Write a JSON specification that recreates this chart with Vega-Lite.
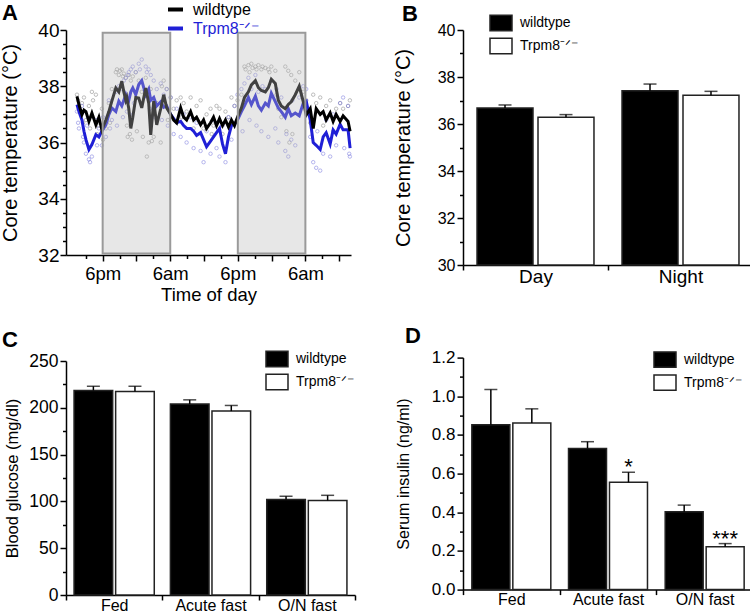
{
"$schema": "https://vega.github.io/schema/vega-lite/v6.json",
"padding": {"left": 0, "top": 0, "right": 0, "bottom": 0},
"config": {
  "font": "Liberation Sans",
  "view": {"stroke": null},
  "axis": {"domainColor": "#000", "domainWidth": 1.5, "tickColor": "#000", "tickWidth": 1.5, "ticks": true, "labelColor": "#000", "titleColor": "#000", "grid": false, "labelFont": "Liberation Sans", "titleFont": "Liberation Sans", "titleFontWeight": "normal"},
  "title": {"fontSize": 22, "fontWeight": "bold", "anchor": "start", "frame": "group", "font": "Liberation Sans", "color": "#000"},
  "legend": {"labelFont": "Liberation Sans", "labelColor": "#000"}
},
"datasets": {
  "lineA": [
    {"h":1.44,"g":"wildtype","v":37.64},{"h":1.79,"g":"wildtype","v":37.35},{"h":2.32,"g":"wildtype","v":36.99},{"h":2.68,"g":"wildtype","v":37.15},{"h":3.03,"g":"wildtype","v":37.1},{"h":3.56,"g":"wildtype","v":36.75},{"h":4.09,"g":"wildtype","v":37.05},{"h":4.8,"g":"wildtype","v":36.63},{"h":5.33,"g":"wildtype","v":36.9},{"h":5.86,"g":"wildtype","v":36.45},
    {"h":6.57,"g":"wildtype","v":36.8},{"h":7.1,"g":"wildtype","v":37.1},{"h":7.63,"g":"wildtype","v":37.47},{"h":8.34,"g":"wildtype","v":37.94},{"h":8.87,"g":"wildtype","v":37.8},{"h":9.4,"g":"wildtype","v":38.18},{"h":9.76,"g":"wildtype","v":37.8},{"h":10.11,"g":"wildtype","v":37.5},{"h":10.29,"g":"wildtype","v":37.6},{"h":10.64,"g":"wildtype","v":37.2},
    {"h":11.0,"g":"wildtype","v":36.5},{"h":11.35,"g":"wildtype","v":36.9},{"h":11.88,"g":"wildtype","v":37.6},{"h":12.41,"g":"wildtype","v":37.58},{"h":12.94,"g":"wildtype","v":37.23},{"h":13.65,"g":"wildtype","v":37.94},{"h":14.18,"g":"wildtype","v":37.4},{"h":14.54,"g":"wildtype","v":36.27},{"h":15.07,"g":"wildtype","v":37.47},{"h":15.6,"g":"wildtype","v":36.63},
    {"h":16.31,"g":"wildtype","v":37.2},{"h":16.84,"g":"wildtype","v":37.7},{"h":17.37,"g":"wildtype","v":37.23},{"h":18.08,"g":"wildtype","v":37.0},{"h":18.61,"g":"wildtype","v":36.8},{"h":19.14,"g":"wildtype","v":36.7},{"h":19.85,"g":"wildtype","v":37.23},{"h":20.38,"g":"wildtype","v":36.9},{"h":20.91,"g":"wildtype","v":36.8},{"h":21.62,"g":"wildtype","v":37.1},
    {"h":22.15,"g":"wildtype","v":36.8},{"h":22.68,"g":"wildtype","v":36.9},{"h":23.39,"g":"wildtype","v":36.63},{"h":23.92,"g":"wildtype","v":36.8},{"h":24.45,"g":"wildtype","v":36.5},{"h":25.16,"g":"wildtype","v":36.7},{"h":25.69,"g":"wildtype","v":36.9},{"h":26.22,"g":"wildtype","v":36.6},{"h":26.75,"g":"wildtype","v":36.85},{"h":27.28,"g":"wildtype","v":36.6},
    {"h":27.81,"g":"wildtype","v":36.8},{"h":28.34,"g":"wildtype","v":36.55},{"h":28.87,"g":"wildtype","v":36.8},{"h":29.41,"g":"wildtype","v":36.6},{"h":29.94,"g":"wildtype","v":36.9},{"h":30.64,"g":"wildtype","v":37.23},{"h":31.18,"g":"wildtype","v":37.6},{"h":31.88,"g":"wildtype","v":37.8},{"h":32.41,"g":"wildtype","v":38.05},{"h":33.12,"g":"wildtype","v":38.2},
    {"h":33.65,"g":"wildtype","v":37.95},{"h":34.18,"g":"wildtype","v":37.85},{"h":34.89,"g":"wildtype","v":37.8},{"h":35.42,"g":"wildtype","v":37.95},{"h":35.95,"g":"wildtype","v":38.25},{"h":36.66,"g":"wildtype","v":38.1},{"h":37.19,"g":"wildtype","v":37.5},{"h":37.72,"g":"wildtype","v":37.3},{"h":38.43,"g":"wildtype","v":37.2},{"h":38.96,"g":"wildtype","v":37.35},
    {"h":39.49,"g":"wildtype","v":37.45},{"h":40.2,"g":"wildtype","v":37.7},{"h":40.91,"g":"wildtype","v":38.0},{"h":41.62,"g":"wildtype","v":37.45},{"h":42.15,"g":"wildtype","v":36.98},{"h":42.86,"g":"wildtype","v":37.2},{"h":43.39,"g":"wildtype","v":36.5},{"h":43.92,"g":"wildtype","v":37.2},{"h":44.63,"g":"wildtype","v":37.0},{"h":45.16,"g":"wildtype","v":37.1},
    {"h":45.69,"g":"wildtype","v":36.8},{"h":46.4,"g":"wildtype","v":37.05},{"h":46.93,"g":"wildtype","v":36.75},{"h":47.46,"g":"wildtype","v":37.0},{"h":48.17,"g":"wildtype","v":36.75},{"h":48.7,"g":"wildtype","v":36.95},{"h":49.58,"g":"wildtype","v":36.75},{"h":49.94,"g":"wildtype","v":36.4},
    {"h":1.44,"g":"Trpm8","v":37.35},{"h":1.79,"g":"Trpm8","v":37.1},{"h":2.32,"g":"Trpm8","v":36.8},{"h":2.68,"g":"Trpm8","v":36.4},{"h":3.03,"g":"Trpm8","v":36.1},{"h":3.56,"g":"Trpm8","v":35.75},{"h":4.09,"g":"Trpm8","v":35.93},{"h":4.8,"g":"Trpm8","v":36.28},{"h":5.33,"g":"Trpm8","v":36.2},{"h":5.86,"g":"Trpm8","v":36.4},
    {"h":6.57,"g":"Trpm8","v":36.63},{"h":7.1,"g":"Trpm8","v":36.99},{"h":7.63,"g":"Trpm8","v":37.23},{"h":8.34,"g":"Trpm8","v":37.1},{"h":8.87,"g":"Trpm8","v":37.47},{"h":9.4,"g":"Trpm8","v":37.3},{"h":9.76,"g":"Trpm8","v":37.5},{"h":10.11,"g":"Trpm8","v":37.7},{"h":10.29,"g":"Trpm8","v":37.6},{"h":10.64,"g":"Trpm8","v":37.5},
    {"h":11.0,"g":"Trpm8","v":37.8},{"h":11.35,"g":"Trpm8","v":37.94},{"h":11.88,"g":"Trpm8","v":37.7},{"h":12.41,"g":"Trpm8","v":38.06},{"h":12.94,"g":"Trpm8","v":38.2},{"h":13.65,"g":"Trpm8","v":37.7},{"h":14.18,"g":"Trpm8","v":37.9},{"h":14.54,"g":"Trpm8","v":37.5},{"h":15.07,"g":"Trpm8","v":37.6},{"h":15.6,"g":"Trpm8","v":37.3},
    {"h":16.31,"g":"Trpm8","v":37.45},{"h":16.84,"g":"Trpm8","v":37.25},{"h":17.37,"g":"Trpm8","v":37.3},{"h":18.08,"g":"Trpm8","v":37.0},{"h":18.61,"g":"Trpm8","v":36.85},{"h":19.14,"g":"Trpm8","v":36.7},{"h":19.85,"g":"Trpm8","v":36.75},{"h":20.38,"g":"Trpm8","v":36.6},{"h":20.91,"g":"Trpm8","v":36.5},{"h":21.62,"g":"Trpm8","v":36.5},
    {"h":22.15,"g":"Trpm8","v":36.4},{"h":22.68,"g":"Trpm8","v":36.25},{"h":23.39,"g":"Trpm8","v":36.35},{"h":23.92,"g":"Trpm8","v":36.1},{"h":24.45,"g":"Trpm8","v":35.85},{"h":25.16,"g":"Trpm8","v":36.05},{"h":25.69,"g":"Trpm8","v":36.2},{"h":26.22,"g":"Trpm8","v":36.35},{"h":26.75,"g":"Trpm8","v":36.5},{"h":27.28,"g":"Trpm8","v":35.95},
    {"h":27.81,"g":"Trpm8","v":35.6},{"h":28.34,"g":"Trpm8","v":36.2},{"h":28.87,"g":"Trpm8","v":36.6},{"h":29.41,"g":"Trpm8","v":36.65},{"h":29.94,"g":"Trpm8","v":36.8},{"h":30.64,"g":"Trpm8","v":37.1},{"h":31.18,"g":"Trpm8","v":37.3},{"h":31.88,"g":"Trpm8","v":37.6},{"h":32.41,"g":"Trpm8","v":37.35},{"h":33.12,"g":"Trpm8","v":37.65},
    {"h":33.65,"g":"Trpm8","v":37.3},{"h":34.18,"g":"Trpm8","v":37.15},{"h":34.89,"g":"Trpm8","v":37.4},{"h":35.42,"g":"Trpm8","v":37.3},{"h":35.95,"g":"Trpm8","v":37.75},{"h":36.66,"g":"Trpm8","v":37.45},{"h":37.19,"g":"Trpm8","v":37.23},{"h":37.72,"g":"Trpm8","v":37.1},{"h":38.43,"g":"Trpm8","v":36.9},{"h":38.96,"g":"Trpm8","v":37.2},
    {"h":39.49,"g":"Trpm8","v":36.95},{"h":40.2,"g":"Trpm8","v":37.05},{"h":40.91,"g":"Trpm8","v":36.95},{"h":41.62,"g":"Trpm8","v":37.4},{"h":42.15,"g":"Trpm8","v":37.47},{"h":42.86,"g":"Trpm8","v":36.8},{"h":43.39,"g":"Trpm8","v":36.0},{"h":43.92,"g":"Trpm8","v":35.9},{"h":44.63,"g":"Trpm8","v":35.75},{"h":45.16,"g":"Trpm8","v":36.2},
    {"h":45.69,"g":"Trpm8","v":36.35},{"h":46.4,"g":"Trpm8","v":35.95},{"h":46.93,"g":"Trpm8","v":36.45},{"h":47.46,"g":"Trpm8","v":36.3},{"h":48.17,"g":"Trpm8","v":36.65},{"h":48.7,"g":"Trpm8","v":36.45},{"h":49.58,"g":"Trpm8","v":36.45},{"h":49.94,"g":"Trpm8","v":35.8}
  ],
  "ptsA": [
    {"h":1.44,"g":"wildtype","v":37.7},{"h":1.64,"g":"wildtype","v":37.5},{"h":1.79,"g":"wildtype","v":37.2},{"h":2.32,"g":"wildtype","v":37.4},{"h":2.52,"g":"wildtype","v":36.7},{"h":2.68,"g":"wildtype","v":37.6},{"h":3.03,"g":"wildtype","v":36.8},{"h":3.56,"g":"wildtype","v":37.3},{"h":3.76,"g":"wildtype","v":36.5},{"h":4.09,"g":"wildtype","v":37.8},
    {"h":4.29,"g":"wildtype","v":37.5},{"h":4.8,"g":"wildtype","v":37.7},{"h":5.0,"g":"wildtype","v":36.3},{"h":5.33,"g":"wildtype","v":36.6},{"h":5.86,"g":"wildtype","v":37.2},{"h":6.06,"g":"wildtype","v":36.1},{"h":6.57,"g":"wildtype","v":36.5},{"h":7.1,"g":"wildtype","v":37.4},{"h":7.3,"g":"wildtype","v":36.7},{"h":7.63,"g":"wildtype","v":37.9},
    {"h":8.34,"g":"wildtype","v":38.5},{"h":8.54,"g":"wildtype","v":38.6},{"h":8.87,"g":"wildtype","v":38.4},{"h":9.07,"g":"wildtype","v":38.55},{"h":9.4,"g":"wildtype","v":38.6},{"h":9.6,"g":"wildtype","v":38.35},{"h":9.76,"g":"wildtype","v":38.45},{"h":10.11,"g":"wildtype","v":38.3},{"h":10.31,"g":"wildtype","v":36.6},{"h":10.45,"g":"wildtype","v":36.2},
    {"h":10.64,"g":"wildtype","v":38.4},{"h":10.84,"g":"wildtype","v":36.3},{"h":11.0,"g":"wildtype","v":38.2},{"h":11.2,"g":"wildtype","v":36.1},{"h":11.35,"g":"wildtype","v":38.35},{"h":11.88,"g":"wildtype","v":38.5},{"h":12.08,"g":"wildtype","v":36.4},{"h":12.41,"g":"wildtype","v":38.2},{"h":12.94,"g":"wildtype","v":37.8},{"h":13.14,"g":"wildtype","v":36.2},
    {"h":13.65,"g":"wildtype","v":38.3},{"h":13.85,"g":"wildtype","v":35.5},{"h":14.18,"g":"wildtype","v":36.0},{"h":14.54,"g":"wildtype","v":37.9},{"h":14.74,"g":"wildtype","v":36.05},{"h":15.07,"g":"wildtype","v":36.2},{"h":15.6,"g":"wildtype","v":37.4},{"h":16.31,"g":"wildtype","v":36.0},{"h":16.51,"g":"wildtype","v":38.0},{"h":16.84,"g":"wildtype","v":38.2},
    {"h":17.37,"g":"wildtype","v":37.9},{"h":17.57,"g":"wildtype","v":36.8},{"h":18.08,"g":"wildtype","v":37.6},{"h":18.61,"g":"wildtype","v":37.2},{"h":19.14,"g":"wildtype","v":37.5},{"h":19.85,"g":"wildtype","v":37.6},{"h":20.05,"g":"wildtype","v":36.9},{"h":20.38,"g":"wildtype","v":37.4},{"h":20.91,"g":"wildtype","v":37.1},{"h":21.62,"g":"wildtype","v":37.6},
    {"h":22.15,"g":"wildtype","v":36.5},{"h":22.68,"g":"wildtype","v":37.3},{"h":23.39,"g":"wildtype","v":37.5},{"h":23.92,"g":"wildtype","v":36.5},{"h":24.45,"g":"wildtype","v":37.0},{"h":25.16,"g":"wildtype","v":37.2},{"h":25.36,"g":"wildtype","v":36.3},{"h":25.69,"g":"wildtype","v":36.6},{"h":26.22,"g":"wildtype","v":37.3},{"h":26.75,"g":"wildtype","v":37.2},
    {"h":27.28,"g":"wildtype","v":36.3},{"h":27.81,"g":"wildtype","v":37.1},{"h":28.34,"g":"wildtype","v":36.9},{"h":28.87,"g":"wildtype","v":37.6},{"h":29.41,"g":"wildtype","v":37.3},{"h":29.94,"g":"wildtype","v":37.5},{"h":30.64,"g":"wildtype","v":37.7},{"h":31.18,"g":"wildtype","v":38.7},{"h":31.38,"g":"wildtype","v":38.6},{"h":31.88,"g":"wildtype","v":38.75},
    {"h":32.08,"g":"wildtype","v":38.5},{"h":32.41,"g":"wildtype","v":38.8},{"h":32.61,"g":"wildtype","v":38.65},{"h":33.12,"g":"wildtype","v":38.7},{"h":33.32,"g":"wildtype","v":38.6},{"h":33.65,"g":"wildtype","v":38.75},{"h":34.18,"g":"wildtype","v":38.6},{"h":34.38,"g":"wildtype","v":38.7},{"h":34.89,"g":"wildtype","v":38.65},{"h":35.42,"g":"wildtype","v":38.6},
    {"h":35.62,"g":"wildtype","v":38.5},{"h":35.95,"g":"wildtype","v":38.7},{"h":36.66,"g":"wildtype","v":38.55},{"h":36.86,"g":"wildtype","v":37.7},{"h":37.19,"g":"wildtype","v":37.2},{"h":37.72,"g":"wildtype","v":36.9},{"h":38.43,"g":"wildtype","v":38.7},{"h":38.63,"g":"wildtype","v":36.4},{"h":38.96,"g":"wildtype","v":38.55},{"h":39.16,"g":"wildtype","v":36.0},
    {"h":39.49,"g":"wildtype","v":38.4},{"h":39.69,"g":"wildtype","v":36.3},{"h":40.2,"g":"wildtype","v":38.2},{"h":40.91,"g":"wildtype","v":38.5},{"h":41.62,"g":"wildtype","v":37.8},{"h":42.15,"g":"wildtype","v":37.5},{"h":42.86,"g":"wildtype","v":36.7},{"h":43.39,"g":"wildtype","v":37.7},{"h":43.92,"g":"wildtype","v":37.4},{"h":44.63,"g":"wildtype","v":37.6},
    {"h":45.16,"g":"wildtype","v":36.6},{"h":45.69,"g":"wildtype","v":37.3},{"h":46.4,"g":"wildtype","v":37.5},{"h":46.93,"g":"wildtype","v":36.4},{"h":47.46,"g":"wildtype","v":37.2},{"h":48.17,"g":"wildtype","v":37.4},{"h":48.7,"g":"wildtype","v":37.2},{"h":49.58,"g":"wildtype","v":37.3},{"h":49.9,"g":"wildtype","v":37.5},
    {"h":1.44,"g":"Trpm8","v":37.1},{"h":1.64,"g":"Trpm8","v":36.7},{"h":1.79,"g":"Trpm8","v":36.5},{"h":2.32,"g":"Trpm8","v":37.3},{"h":2.52,"g":"Trpm8","v":36.2},{"h":2.68,"g":"Trpm8","v":36.0},{"h":3.03,"g":"Trpm8","v":35.6},{"h":3.23,"g":"Trpm8","v":36.6},{"h":3.56,"g":"Trpm8","v":35.4},{"h":3.76,"g":"Trpm8","v":35.3},
    {"h":4.09,"g":"Trpm8","v":35.5},{"h":4.8,"g":"Trpm8","v":36.8},{"h":5.0,"g":"Trpm8","v":35.9},{"h":5.33,"g":"Trpm8","v":36.5},{"h":5.86,"g":"Trpm8","v":35.9},{"h":6.06,"g":"Trpm8","v":36.9},{"h":6.57,"g":"Trpm8","v":36.2},{"h":7.1,"g":"Trpm8","v":37.5},{"h":7.3,"g":"Trpm8","v":36.5},{"h":7.63,"g":"Trpm8","v":36.8},
    {"h":8.34,"g":"Trpm8","v":37.8},{"h":8.54,"g":"Trpm8","v":36.6},{"h":8.87,"g":"Trpm8","v":38.0},{"h":9.4,"g":"Trpm8","v":37.9},{"h":9.6,"g":"Trpm8","v":36.9},{"h":9.76,"g":"Trpm8","v":38.2},{"h":10.11,"g":"Trpm8","v":38.3},{"h":10.31,"g":"Trpm8","v":37.1},{"h":10.45,"g":"Trpm8","v":38.4},{"h":10.64,"g":"Trpm8","v":38.5},
    {"h":10.84,"g":"Trpm8","v":37.0},{"h":11.0,"g":"Trpm8","v":38.6},{"h":11.35,"g":"Trpm8","v":38.7},{"h":11.55,"g":"Trpm8","v":37.4},{"h":11.88,"g":"Trpm8","v":38.5},{"h":12.41,"g":"Trpm8","v":38.8},{"h":12.61,"g":"Trpm8","v":38.6},{"h":12.94,"g":"Trpm8","v":38.95},{"h":13.65,"g":"Trpm8","v":38.7},{"h":13.85,"g":"Trpm8","v":38.5},
    {"h":14.18,"g":"Trpm8","v":38.6},{"h":14.38,"g":"Trpm8","v":37.2},{"h":14.54,"g":"Trpm8","v":38.4},{"h":15.07,"g":"Trpm8","v":38.2},{"h":15.27,"g":"Trpm8","v":36.9},{"h":15.6,"g":"Trpm8","v":37.9},{"h":16.31,"g":"Trpm8","v":38.1},{"h":16.51,"g":"Trpm8","v":36.8},{"h":16.84,"g":"Trpm8","v":37.7},{"h":17.37,"g":"Trpm8","v":37.9},
    {"h":17.57,"g":"Trpm8","v":36.6},{"h":18.08,"g":"Trpm8","v":37.6},{"h":18.61,"g":"Trpm8","v":36.3},{"h":19.14,"g":"Trpm8","v":37.2},{"h":19.85,"g":"Trpm8","v":36.2},{"h":20.38,"g":"Trpm8","v":37.0},{"h":20.91,"g":"Trpm8","v":36.0},{"h":21.62,"g":"Trpm8","v":36.9},{"h":22.15,"g":"Trpm8","v":35.8},{"h":22.68,"g":"Trpm8","v":36.7},
    {"h":23.39,"g":"Trpm8","v":35.7},{"h":23.92,"g":"Trpm8","v":35.3},{"h":24.45,"g":"Trpm8","v":36.4},{"h":25.16,"g":"Trpm8","v":35.6},{"h":25.69,"g":"Trpm8","v":36.8},{"h":26.22,"g":"Trpm8","v":35.8},{"h":26.75,"g":"Trpm8","v":35.5},{"h":27.28,"g":"Trpm8","v":36.6},{"h":27.81,"g":"Trpm8","v":35.3},{"h":28.34,"g":"Trpm8","v":36.9},
    {"h":28.87,"g":"Trpm8","v":36.1},{"h":29.41,"g":"Trpm8","v":37.3},{"h":29.94,"g":"Trpm8","v":37.7},{"h":30.64,"g":"Trpm8","v":37.9},{"h":30.84,"g":"Trpm8","v":36.4},{"h":31.18,"g":"Trpm8","v":38.1},{"h":31.88,"g":"Trpm8","v":38.3},{"h":32.08,"g":"Trpm8","v":36.8},{"h":32.41,"g":"Trpm8","v":37.9},{"h":33.12,"g":"Trpm8","v":38.4},
    {"h":33.32,"g":"Trpm8","v":36.6},{"h":33.65,"g":"Trpm8","v":37.8},{"h":34.18,"g":"Trpm8","v":36.4},{"h":34.38,"g":"Trpm8","v":38.0},{"h":34.89,"g":"Trpm8","v":37.9},{"h":35.42,"g":"Trpm8","v":36.2},{"h":35.95,"g":"Trpm8","v":38.2},{"h":36.66,"g":"Trpm8","v":36.5},{"h":36.86,"g":"Trpm8","v":37.9},{"h":37.19,"g":"Trpm8","v":36.0},
    {"h":37.72,"g":"Trpm8","v":37.6},{"h":38.43,"g":"Trpm8","v":35.7},{"h":38.63,"g":"Trpm8","v":36.3},{"h":38.96,"g":"Trpm8","v":35.5},{"h":39.49,"g":"Trpm8","v":36.1},{"h":39.69,"g":"Trpm8","v":37.5},{"h":40.2,"g":"Trpm8","v":35.9},{"h":40.91,"g":"Trpm8","v":37.6},{"h":41.62,"g":"Trpm8","v":38.0},{"h":42.15,"g":"Trpm8","v":37.9},
    {"h":42.86,"g":"Trpm8","v":36.2},{"h":43.39,"g":"Trpm8","v":35.3},{"h":43.92,"g":"Trpm8","v":35.1},{"h":44.12,"g":"Trpm8","v":36.4},{"h":44.63,"g":"Trpm8","v":35.0},{"h":45.16,"g":"Trpm8","v":35.6},{"h":45.69,"g":"Trpm8","v":36.8},{"h":46.4,"g":"Trpm8","v":35.5},{"h":46.93,"g":"Trpm8","v":37.0},{"h":47.46,"g":"Trpm8","v":35.9},
    {"h":48.17,"g":"Trpm8","v":37.4},{"h":48.7,"g":"Trpm8","v":37.6},{"h":48.9,"g":"Trpm8","v":35.8},{"h":49.58,"g":"Trpm8","v":37.3},{"h":49.78,"g":"Trpm8","v":35.6},{"h":49.9,"g":"Trpm8","v":35.5}
  ],
  "night": [{"s":6,"e":18,"lo":32.05,"hi":39.9},{"s":30,"e":42,"lo":32.05,"hi":39.9}],
  "B": [
    {"c":"Day","g":"wildtype","m":36.68,"hi":36.81},{"c":"Day","g":"Trpm8","m":36.29,"hi":36.4},
    {"c":"Night","g":"wildtype","m":37.42,"hi":37.7},{"c":"Night","g":"Trpm8","m":37.22,"hi":37.39}
  ],
  "C": [
    {"c":"Fed","g":"wildtype","m":218.5,"hi":223},{"c":"Fed","g":"Trpm8","m":217.5,"hi":223},
    {"c":"Acute fast","g":"wildtype","m":204,"hi":208.5},{"c":"Acute fast","g":"Trpm8","m":196.5,"hi":202.5},
    {"c":"O/N fast","g":"wildtype","m":102,"hi":105.5},{"c":"O/N fast","g":"Trpm8","m":101,"hi":106.5}
  ],
  "D": [
    {"c":"Fed","g":"wildtype","m":0.853,"hi":1.035,"s":""},{"c":"Fed","g":"Trpm8","m":0.862,"hi":0.935,"s":""},
    {"c":"Acute fast","g":"wildtype","m":0.73,"hi":0.765,"s":""},{"c":"Acute fast","g":"Trpm8","m":0.555,"hi":0.607,"s":"*"},
    {"c":"O/N fast","g":"wildtype","m":0.403,"hi":0.437,"s":""},{"c":"O/N fast","g":"Trpm8","m":0.222,"hi":0.238,"s":"***"}
  ]
},
"spacing": 36,
"resolve": {"scale": {"color": "independent", "xOffset": "independent"}, "legend": {"color": "independent"}},
"hconcat": [
  {
    "spacing": 24,
    "resolve": {"scale": {"color": "independent", "xOffset": "independent"}, "legend": {"color": "independent"}},
    "vconcat": [
      {
        "title": {"text": "A", "dx": -64, "offset": -24.6},
        "width": 285, "height": 225,
        "resolve": {"axis": {"x": "independent", "y": "independent"}},
        "layer": [
          {
            "data": {"name": "ptsA"},
            "transform": [{"filter": "datum.g === 'wildtype'"}],
            "mark": {"type": "point", "shape": "circle", "size": 12, "strokeWidth": 0.8, "filled": false, "stroke": "#8a8a8a"},
            "encoding": {
              "x": {"field": "h", "type": "quantitative", "scale": {"domain": [-0.51, 50.1], "nice": false, "zero": false},
                "axis": {"title": "Time of day", "orient": "bottom", "values": [6,12,18,24,30,36,42,48],
                  "labelExpr": "datum.value === 6 || datum.value === 30 ? '6pm' : (datum.value === 18 || datum.value === 42 ? '6am' : '')",
                  "tickSize": 6, "labelFontSize": 18.5, "titleFontSize": 18.5, "labelPadding": 3, "titlePadding": 3, "labelFlush": false}},
              "y": {"field": "v", "type": "quantitative", "scale": {"domain": [32, 40], "nice": false, "zero": false},
                "axis": {"title": "Core temperature (°C)", "orient": "left", "values": [32,34,36,38,40],
                  "tickSize": 6, "labelFontSize": 19, "titleFontSize": 20, "labelPadding": 1, "titlePadding": 17, "labelFlush": false}}
            }
          },
          {
            "data": {"name": "ptsA"},
            "transform": [{"filter": "datum.g === 'Trpm8'"}],
            "mark": {"type": "point", "shape": "circle", "size": 12, "strokeWidth": 0.8, "filled": false, "stroke": "#7c7ce0"},
            "encoding": {
              "x": {"field": "h", "type": "quantitative", "scale": {"domain": [-0.51, 50.1], "nice": false, "zero": false},
                "axis": {"orient": "bottom", "values": [3,9,15,21,27,33,39,45], "labels": false, "domain": false, "title": null, "tickSize": 3.5}},
              "y": {"field": "v", "type": "quantitative", "scale": {"domain": [32, 40], "nice": false, "zero": false},
                "axis": {"orient": "left", "values": [32.5,33,33.5,34.5,35,35.5,36.5,37,37.5,38.5,39,39.5], "labels": false, "domain": false, "title": null, "tickSize": 3.5}}
            }
          },
          {
            "data": {"name": "lineA"},
            "transform": [{"filter": "datum.g === 'Trpm8'"}],
            "mark": {"type": "line", "strokeWidth": 3},
            "encoding": {
              "x": {"field": "h", "type": "quantitative", "scale": {"domain": [-0.51, 50.1], "nice": false, "zero": false}, "axis": null},
              "y": {"field": "v", "type": "quantitative", "scale": {"domain": [32, 40], "nice": false, "zero": false}, "axis": null},
              "color": {"field": "g", "type": "nominal", "scale": {"domain": ["wildtype", "Trpm8"], "range": ["#000000", "#1f1fd6"]},
                "legend": {"orient": "none", "legendX": 100, "legendY": -30, "title": null, "symbolType": "stroke", "symbolSize": 225, "symbolStrokeWidth": 4,
                  "labelFontSize": 16, "labelOffset": 8, "rowPadding": 1, "padding": 0,
                  "labelExpr": "datum.label === 'Trpm8' ? 'Trpm8⁻ᐟ⁻' : datum.label",
                  "encode": {"labels": {"update": {"fill": {"signal": "datum.value === 'Trpm8' ? '#1f1fd6' : '#000000'"}}}}}}
            }
          },
          {
            "data": {"name": "lineA"},
            "transform": [{"filter": "datum.g === 'wildtype'"}],
            "mark": {"type": "line", "strokeWidth": 3},
            "encoding": {
              "x": {"field": "h", "type": "quantitative", "scale": {"domain": [-0.51, 50.1], "nice": false, "zero": false}, "axis": null},
              "y": {"field": "v", "type": "quantitative", "scale": {"domain": [32, 40], "nice": false, "zero": false}, "axis": null},
              "color": {"field": "g", "type": "nominal", "scale": {"domain": ["wildtype", "Trpm8"], "range": ["#000000", "#1f1fd6"]}}
            }
          },
          {
            "data": {"name": "night"},
            "mark": {"type": "rect", "fill": "#bbbbbb", "fillOpacity": 0.35, "stroke": "#9a9a9a", "strokeOpacity": 1, "strokeWidth": 2},
            "encoding": {
              "x": {"field": "s", "type": "quantitative", "scale": {"domain": [-0.51, 50.1], "nice": false, "zero": false}, "axis": null},
              "x2": {"field": "e"},
              "y": {"field": "lo", "type": "quantitative", "scale": {"domain": [32, 40], "nice": false, "zero": false}, "axis": null},
              "y2": {"field": "hi"}
            }
          }
        ]
      },
      {
        "title": {"text": "C", "dx": -64, "offset": -4.6},
        "width": 289, "height": 234,
        "data": {"name": "C"},
        "resolve": {"axis": {"y": "independent"}},
        "layer": [
          {
            "mark": {"type": "bar", "stroke": "#222", "strokeWidth": 1.5},
            "encoding": {
              "x": {"field": "c", "type": "nominal", "sort": ["Fed", "Acute fast", "O/N fast"], "scale": {"paddingInner": 0, "paddingOuter": 0},
                "axis": {"title": null, "labelFontSize": 16, "labelAngle": 0, "tickBand": "extent", "ticks": true, "tickSize": 5, "labelPadding": -3}},
              "xOffset": {"field": "g", "sort": ["wildtype", "Trpm8"], "scale": {"paddingInner": 0.071, "paddingOuter": 0.194}},
              "y": {"field": "m", "type": "quantitative", "scale": {"domain": [0, 250], "nice": false},
                "axis": {"title": "Blood glucose (mg/dl)", "orient": "left", "values": [0,50,100,150,200,250],
                  "tickSize": 6, "labelFontSize": 17.5, "titleFontSize": 16.5, "labelPadding": 2, "titlePadding": 8, "labelFlush": false}},
              "color": {"field": "g", "type": "nominal", "scale": {"domain": ["wildtype", "Trpm8"], "range": ["#000000", "#ffffff"]},
                "legend": {"orient": "none", "legendX": 199, "legendY": -14, "title": null, "symbolType": "M-1,-0.7L1,-0.7L1,0.7L-1,0.7Z", "symbolSize": 484,
                  "symbolStrokeColor": "#222", "symbolStrokeWidth": 1.5, "labelFontSize": 14, "labelOffset": 7, "rowPadding": 0, "padding": 0,
                  "labelExpr": "datum.label === 'Trpm8' ? 'Trpm8⁻ᐟ⁻' : datum.label"}}
            }
          },
          {
            "mark": {"type": "rule", "strokeWidth": 1.5, "color": "#000"},
            "encoding": {
              "x": {"field": "c", "type": "nominal", "sort": ["Fed", "Acute fast", "O/N fast"]},
              "xOffset": {"field": "g", "sort": ["wildtype", "Trpm8"]},
              "y": {"field": "m", "type": "quantitative", "scale": {"domain": [0, 250], "nice": false},
                "axis": {"orient": "left", "values": [25,75,125,175,225], "labels": false, "domain": false, "title": null, "tickSize": 3.5}},
              "y2": {"field": "hi"}
            }
          },
          {
            "mark": {"type": "tick", "orient": "horizontal", "size": 13, "thickness": 1.5, "color": "#000"},
            "encoding": {
              "x": {"field": "c", "type": "nominal", "sort": ["Fed", "Acute fast", "O/N fast"]},
              "xOffset": {"field": "g", "sort": ["wildtype", "Trpm8"]},
              "y": {"field": "hi", "type": "quantitative", "scale": {"domain": [0, 250], "nice": false}, "axis": null}
            }
          }
        ]
      }
    ]
  },
  {
    "spacing": 38.6,
    "resolve": {"scale": {"color": "independent", "xOffset": "independent"}, "legend": {"color": "independent"}},
    "vconcat": [
      {
        "title": {"text": "B", "dx": -61, "offset": -15},
        "width": 290, "height": 235,
        "data": {"name": "B"},
        "resolve": {"axis": {"y": "independent"}},
        "layer": [
          {
            "mark": {"type": "bar", "stroke": "#222", "strokeWidth": 1.5},
            "encoding": {
              "x": {"field": "c", "type": "nominal", "sort": ["Day", "Night"], "scale": {"paddingInner": 0, "paddingOuter": 0},
                "axis": {"title": null, "labelFontSize": 19, "labelAngle": 0, "tickBand": "extent", "ticks": true, "tickSize": 5, "labelPadding": -3}},
              "xOffset": {"field": "g", "sort": ["wildtype", "Trpm8"], "scale": {"paddingInner": 0.082, "paddingOuter": 0.23}},
              "y": {"field": "m", "type": "quantitative", "scale": {"domain": [30, 40], "nice": false, "zero": false},
                "axis": {"title": "Core temperature (°C)", "orient": "left", "values": [30,32,34,36,38,40],
                  "tickSize": 6, "labelFontSize": 16, "titleFontSize": 20, "labelPadding": 2, "titlePadding": 24, "labelFlush": false}},
              "y2": {"datum": 30},
              "color": {"field": "g", "type": "nominal", "scale": {"domain": ["wildtype", "Trpm8"], "range": ["#000000", "#ffffff"]},
                "legend": {"orient": "none", "legendX": 26, "legendY": -19, "title": null, "symbolType": "M-1,-0.7L1,-0.7L1,0.7L-1,0.7Z", "symbolSize": 484,
                  "symbolStrokeColor": "#222", "symbolStrokeWidth": 1.5, "labelFontSize": 14, "labelOffset": 7, "rowPadding": 0, "padding": 0,
                  "labelExpr": "datum.label === 'Trpm8' ? 'Trpm8⁻ᐟ⁻' : datum.label"}}
            }
          },
          {
            "mark": {"type": "rule", "strokeWidth": 1.5, "color": "#000"},
            "encoding": {
              "x": {"field": "c", "type": "nominal", "sort": ["Day", "Night"]},
              "xOffset": {"field": "g", "sort": ["wildtype", "Trpm8"]},
              "y": {"field": "m", "type": "quantitative", "scale": {"domain": [30, 40], "nice": false, "zero": false},
                "axis": {"orient": "left", "values": [31,33,35,37,39], "labels": false, "domain": false, "title": null, "tickSize": 3.5}},
              "y2": {"field": "hi"}
            }
          },
          {
            "mark": {"type": "tick", "orient": "horizontal", "size": 13, "thickness": 1.5, "color": "#000"},
            "encoding": {
              "x": {"field": "c", "type": "nominal", "sort": ["Day", "Night"]},
              "xOffset": {"field": "g", "sort": ["wildtype", "Trpm8"]},
              "y": {"field": "hi", "type": "quantitative", "scale": {"domain": [30, 40], "nice": false, "zero": false}, "axis": null}
            }
          }
        ]
      },
      {
        "title": {"text": "D", "dx": -58, "offset": -0.6},
        "width": 290, "height": 232,
        "data": {"name": "D"},
        "resolve": {"axis": {"y": "independent"}},
        "layer": [
          {
            "mark": {"type": "bar", "stroke": "#222", "strokeWidth": 1.5},
            "encoding": {
              "x": {"field": "c", "type": "nominal", "sort": ["Fed", "Acute fast", "O/N fast"], "scale": {"paddingInner": 0, "paddingOuter": 0},
                "axis": {"title": null, "labelFontSize": 16, "labelAngle": 0, "tickBand": "extent", "ticks": true, "tickSize": 5, "labelPadding": -3}},
              "xOffset": {"field": "g", "sort": ["wildtype", "Trpm8"], "scale": {"paddingInner": 0.073, "paddingOuter": 0.216}},
              "y": {"field": "m", "type": "quantitative", "scale": {"domain": [0, 1.2], "nice": false},
                "axis": {"title": "Serum insulin (ng/ml)", "orient": "left", "values": [0,0.2,0.4,0.6,0.8,1.0,1.2], "format": ".1f",
                  "tickSize": 6, "labelFontSize": 17, "titleFontSize": 16, "labelPadding": 2, "titlePadding": 20, "labelFlush": false}},
              "color": {"field": "g", "type": "nominal", "scale": {"domain": ["wildtype", "Trpm8"], "range": ["#000000", "#ffffff"]},
                "legend": {"orient": "none", "legendX": 190, "legendY": -10, "title": null, "symbolType": "M-1,-0.7L1,-0.7L1,0.7L-1,0.7Z", "symbolSize": 484,
                  "symbolStrokeColor": "#222", "symbolStrokeWidth": 1.5, "labelFontSize": 14, "labelOffset": 7, "rowPadding": 0, "padding": 0,
                  "labelExpr": "datum.label === 'Trpm8' ? 'Trpm8⁻ᐟ⁻' : datum.label"}}
            }
          },
          {
            "mark": {"type": "rule", "strokeWidth": 1.5, "color": "#000"},
            "encoding": {
              "x": {"field": "c", "type": "nominal", "sort": ["Fed", "Acute fast", "O/N fast"]},
              "xOffset": {"field": "g", "sort": ["wildtype", "Trpm8"]},
              "y": {"field": "m", "type": "quantitative", "scale": {"domain": [0, 1.2], "nice": false},
                "axis": {"orient": "left", "values": [0.1,0.3,0.5,0.7,0.9,1.1], "labels": false, "domain": false, "title": null, "tickSize": 3.5}},
              "y2": {"field": "hi"}
            }
          },
          {
            "mark": {"type": "tick", "orient": "horizontal", "size": 13, "thickness": 1.5, "color": "#000"},
            "encoding": {
              "x": {"field": "c", "type": "nominal", "sort": ["Fed", "Acute fast", "O/N fast"]},
              "xOffset": {"field": "g", "sort": ["wildtype", "Trpm8"]},
              "y": {"field": "hi", "type": "quantitative", "scale": {"domain": [0, 1.2], "nice": false}, "axis": null}
            }
          },
          {
            "mark": {"type": "text", "fontSize": 22, "baseline": "alphabetic", "dy": 2, "font": "Liberation Sans", "color": "#000"},
            "encoding": {
              "x": {"field": "c", "type": "nominal", "sort": ["Fed", "Acute fast", "O/N fast"]},
              "xOffset": {"field": "g", "sort": ["wildtype", "Trpm8"]},
              "y": {"field": "hi", "type": "quantitative", "scale": {"domain": [0, 1.2], "nice": false}, "axis": null},
              "text": {"field": "s"}
            }
          }
        ]
      }
    ]
  }
]
}
